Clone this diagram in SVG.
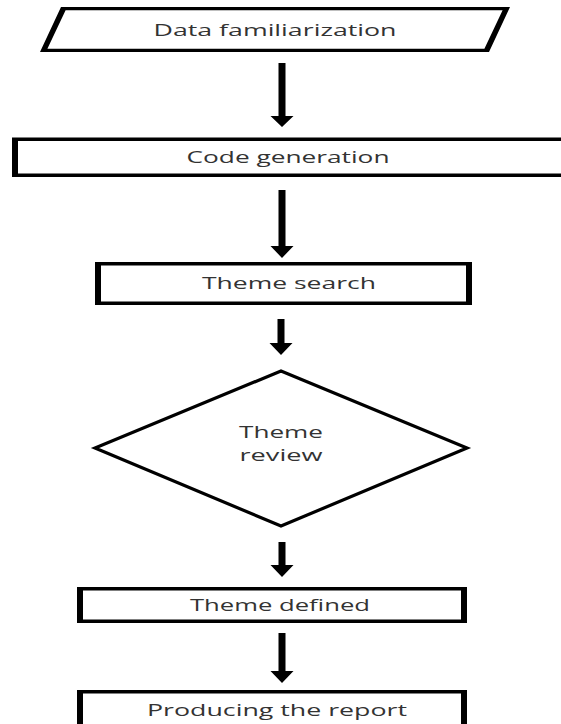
<svg xmlns="http://www.w3.org/2000/svg" width="561" height="724" viewBox="0 0 561 724">
<style>
.frame{fill:#000;fill-rule:evenodd}
.lbl{font-family:"Open Sans","Liberation Sans",sans-serif;font-size:17px;fill:#333;text-anchor:middle}
.dia{fill:#fff;stroke:#000;stroke-width:3.2;stroke-linejoin:miter}
.arr{fill:#000}
</style>
<rect width="561" height="724" fill="#fff"/>
<g id="n1">
<path class="frame" d="M61,7 L510,7 L489,52 L40,52 Z M65.6,10.2 L502.6,10.2 L484.4,48.8 L47.4,48.8 Z"/>
<text class="lbl" x="275" y="36" textLength="243" lengthAdjust="spacingAndGlyphs">Data familiarization</text>
</g>
<g id="n2">
<path class="frame" d="M12,137.5 L570,137.5 L570,177 L12,177 Z M18,141 L564,141 L564,173.5 L18,173.5 Z"/>
<text class="lbl" x="288" y="163" textLength="203" lengthAdjust="spacingAndGlyphs">Code generation</text>
</g>
<g id="n3">
<path class="frame" d="M95,262 L472,262 L472,305 L95,305 Z M101,265.5 L466,265.5 L466,301.5 L101,301.5 Z"/>
<text class="lbl" x="289" y="289" textLength="174" lengthAdjust="spacingAndGlyphs">Theme search</text>
</g>
<g id="n4">
<polygon class="dia" points="281,371 467,448 281,526 95,448"/>
<text class="lbl" x="281" y="438" textLength="84" lengthAdjust="spacingAndGlyphs">Theme</text>
<text class="lbl" x="281" y="461" textLength="83" lengthAdjust="spacingAndGlyphs">review</text>
</g>
<g id="n5">
<path class="frame" d="M77,587 L467,587 L467,623 L77,623 Z M83,590.5 L461,590.5 L461,619.5 L83,619.5 Z"/>
<text class="lbl" x="280" y="611" textLength="180" lengthAdjust="spacingAndGlyphs">Theme defined</text>
</g>
<g id="n6">
<path class="frame" d="M77,690 L467,690 L467,730 L77,730 Z M83,693.5 L461,693.5 L461,730 L83,730 Z"/>
<text class="lbl" x="277" y="716" textLength="260" lengthAdjust="spacingAndGlyphs">Producing the report</text>
</g>
<g id="connectors">
<polygon class="arr" points="278.5,63 285.5,63 285.5,116 293.5,116 282,127 270.5,116 278.5,116"/>
<polygon class="arr" points="278.5,190 285.5,190 285.5,246 293.5,246 282,258 270.5,246 278.5,246"/>
<polygon class="arr" points="277.5,319 284.5,319 284.5,343 292.5,343 281,355 269.5,343 277.5,343"/>
<polygon class="arr" points="278.5,542 285.5,542 285.5,565 293.5,565 282,577 270.5,565 278.5,565"/>
<polygon class="arr" points="278.5,633 285.5,633 285.5,671 293.5,671 282,683 270.5,671 278.5,671"/>
</g>
</svg>
